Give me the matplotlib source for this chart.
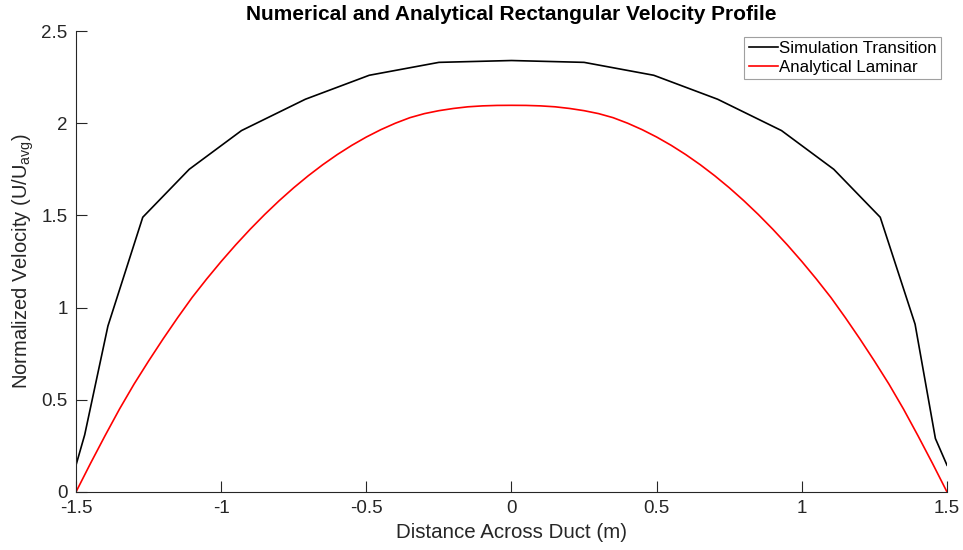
import matplotlib
matplotlib.use('Agg')
import matplotlib.pyplot as plt

plt.rcParams['font.family'] = ['Liberation Sans', 'DejaVu Sans']
plt.rcParams['mathtext.default'] = 'regular'

# simulation (transition) profile
x_sim = [-1.5, -1.47, -1.39, -1.27, -1.11, -0.93, -0.71, -0.49, -0.25, 0.0,
         0.25, 0.49, 0.71, 0.93, 1.11, 1.27, 1.39, 1.46, 1.5]
u_sim = [0.145, 0.31, 0.90, 1.49, 1.75, 1.96, 2.13, 2.26, 2.33, 2.34,
         2.33, 2.26, 2.13, 1.96, 1.75, 1.49, 0.91, 0.29, 0.145]

# analytical laminar profile (left half, mirrored below)
x_lam_half = [-1.5, -1.45, -1.4, -1.35, -1.3, -1.25, -1.2, -1.15, -1.1, -1.05, -1.0,
              -0.95, -0.9, -0.85, -0.8, -0.75, -0.7, -0.65, -0.6, -0.55, -0.5,
              -0.45, -0.4, -0.35, -0.3, -0.25, -0.2, -0.15, -0.1, -0.05, 0.0]
u_lam_half = [0.0, 0.155, 0.305, 0.45, 0.585, 0.71, 0.83, 0.945, 1.055, 1.155, 1.25,
              1.34, 1.425, 1.505, 1.58, 1.65, 1.715, 1.775, 1.83, 1.88, 1.925,
              1.965, 2.0, 2.03, 2.052, 2.068, 2.08, 2.089, 2.094, 2.0965, 2.097]
x_lam = x_lam_half + [-v for v in x_lam_half[-2::-1]]
u_lam = u_lam_half + u_lam_half[-2::-1]

fig = plt.figure(figsize=(9.63, 5.5), dpi=100)
ax = fig.add_axes([0.0789, 0.1055, 0.9045, 0.8381])
ax.plot(x_sim, u_sim, color='black', lw=1.2, label='Simulation Transition')
ax.plot(x_lam, u_lam, color='red', lw=1.2, label='Analytical Laminar')

ax.set_xlim(-1.5, 1.5)
ax.set_ylim(0, 2.5)
ax.set_xticks([-1.5, -1, -0.5, 0, 0.5, 1, 1.5])
ax.set_xticklabels(['-1.5', '-1', '-0.5', '0', '0.5', '1', '1.5'])
ax.set_yticks([0, 0.5, 1, 1.5, 2, 2.5])
ax.set_yticklabels(['0', '0.5', '1', '1.5', '2', '2.5'])
for s in ['top', 'right']:
    ax.spines[s].set_visible(False)
for s in ['left', 'bottom']:
    ax.spines[s].set_color('#262626')
    ax.spines[s].set_linewidth(0.8)
ax.tick_params(direction='in', length=8, width=0.8, color='#262626', labelsize=13.5, labelcolor='#262626', pad=6)

ax.set_xlabel('Distance Across Duct (m)', fontsize=14.8, color='#262626')
ax.set_ylabel('Normalized Velocity (U/U$_{avg}$)', fontsize=14.5, color='#262626')
ax.set_title('Numerical and Analytical Rectangular Velocity Profile', fontsize=15, fontweight='bold', pad=8)

leg = ax.legend(loc='upper right', fontsize=12.2, handlelength=1.7, handletextpad=0.1,
                borderpad=0.25, labelspacing=0.2, fancybox=False, framealpha=1,
                borderaxespad=0.35)
leg.get_frame().set_edgecolor('#a0a0a0')
leg.get_frame().set_linewidth(0.8)

fig.savefig('out.png', dpi=100)
